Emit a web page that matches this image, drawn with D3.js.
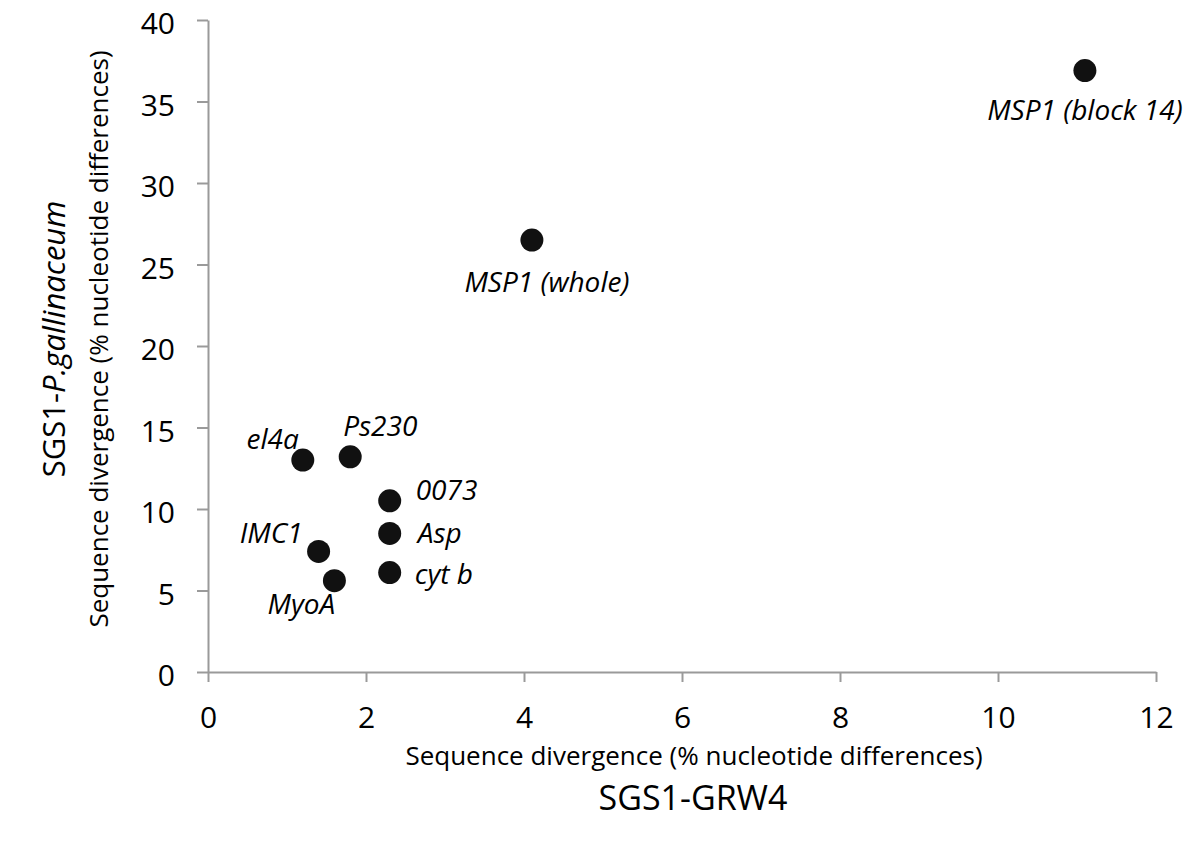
<!DOCTYPE html>
<html><head><meta charset="utf-8">
<script src="https://cdn.jsdelivr.net/npm/d3@7"></script>
<style>
body{margin:0;background:#fff;}
text{font-family:"Open Sans",sans-serif;}
</style></head>
<body><svg id="c" width="1200" height="841"></svg>
<script>
const genes = ["MSP1 (block 14)","MSP1 (whole)","el4a","Ps230","0073","Asp","cyt b","IMC1","MyoA"];
const divGRW4 = [11.1, 4.1, 1.2, 1.8, 2.3, 2.3, 2.3, 1.4, 1.6];
const divPgal = [36.9, 26.5, 13.0, 13.2, 10.5, 8.5, 6.1, 7.4, 5.6];
const xTicks = [0,2,4,6,8,10,12];
const yTicks = [0,5,10,15,20,25,30,35,40];

// label placement (layout only): anchor, dx, baseline dy relative to point
const labelLayout = {
  "MSP1 (block 14)": ["middle", 0, 49],
  "MSP1 (whole)": ["middle", 15, 52],
  "el4a": ["end", -4, -11],
  "Ps230": ["start", -7, -21],
  "0073": ["start", 26, -1],
  "Asp": ["start", 28, 10],
  "cyt b": ["start", 25, 11],
  "IMC1": ["end", -16, -8],
  "MyoA": ["middle", -33, 33]
};

const svg = d3.select("#c");
const x = d3.scaleLinear().domain([0,12]).range([208,1156]);
const y = d3.scaleLinear().domain([0,40]).range([672,20]);
const axisColor = "#9a9a9a";

const gx = svg.append("g").attr("transform","translate(0,672)")
  .call(d3.axisBottom(x).tickValues(xTicks).tickSize(10).tickSizeOuter(0).tickPadding(25));
const gy = svg.append("g").attr("transform","translate(208,0)")
  .call(d3.axisLeft(y).tickValues(yTicks).tickSize(11).tickSizeOuter(0).tickPadding(22));
[gx,gy].forEach(g=>{
  g.select(".domain").attr("stroke",axisColor).attr("stroke-width",2);
  g.selectAll(".tick line").attr("stroke",axisColor).attr("stroke-width",2);
  g.selectAll(".tick text").attr("fill","#000").style("font-size","30px").style("font-family","'Open Sans',sans-serif");
});
gx.selectAll(".tick text").attr("dy","0.71em");
gy.selectAll(".tick text").attr("dy","0.45em");

const pts = genes.map((g,i)=>({g, x:divGRW4[i], y:divPgal[i]}));
svg.append("g").selectAll("circle").data(pts).join("circle")
  .attr("cx",d=>x(d.x)).attr("cy",d=>y(d.y)).attr("r",11.5).attr("fill","#111");

svg.append("g").selectAll("text").data(pts).join("text")
  .attr("x",d=>x(d.x)+labelLayout[d.g][1])
  .attr("y",d=>y(d.y)+labelLayout[d.g][2])
  .attr("text-anchor",d=>labelLayout[d.g][0])
  .style("font-size","28px").style("font-style","italic")
  .text(d=>d.g);

// x axis titles
svg.append("text").attr("x",694).attr("y",765).attr("text-anchor","middle")
  .style("font-size","26px").text("Sequence divergence (% nucleotide differences)");
svg.append("text").attr("x",693).attr("y",810).attr("text-anchor","middle")
  .style("font-size","34px").text("SGS1-GRW4");

// y axis titles
const t1 = svg.append("text").attr("transform","translate(65,339) rotate(-90)").attr("text-anchor","middle")
  .style("font-size","31px");
t1.append("tspan").text("SGS1-");
t1.append("tspan").style("font-style","italic").text("P.gallinaceum");
svg.append("text").attr("transform","translate(108,339) rotate(-90)").attr("text-anchor","middle")
  .style("font-size","26px").text("Sequence divergence (% nucleotide differences)");
</script></body></html>
